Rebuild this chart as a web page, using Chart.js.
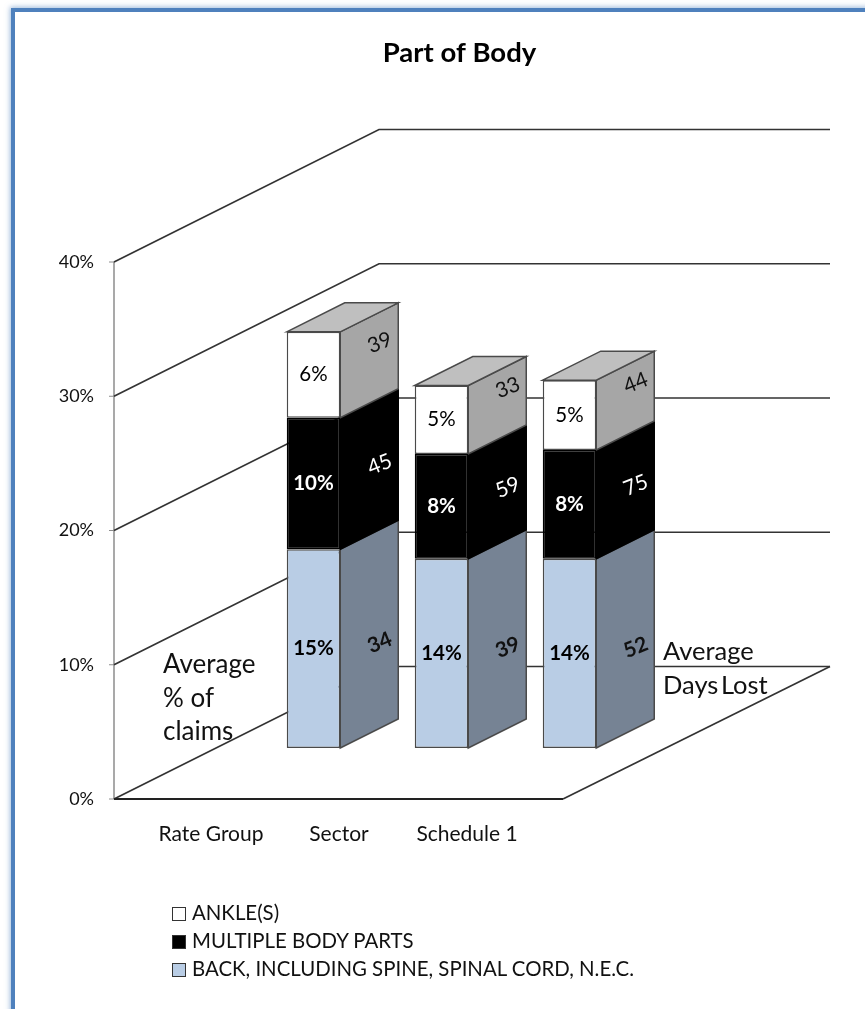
<!DOCTYPE html>
<html>
<head>
<meta charset="utf-8">
<title>Part of Body</title>
<script src="https://cdn.jsdelivr.net/npm/chart.js@4"></script>
<style>
  html, body { margin: 0; padding: 0; background: #fff; }
  body { width: 865px; height: 1009px; overflow: hidden; position: relative; font-family: Lato, sans-serif; }
  #frame {
    position: absolute; left: 11px; top: 8px; width: 1000px; height: 1200px;
    border-left: 4.5px solid #4f81bd; border-top: 4.5px solid #4f81bd;
    box-shadow: 0 0 5px 1px rgba(79, 129, 189, .55);
  }
  #chart-wrap { position: absolute; left: 0; top: 0; width: 865px; height: 1009px; }
  #legend { position: absolute; left: 172px; top: 898px; font-size: 20.4px; color: #111; }
  #legend div { height: 28px; line-height: 28px; white-space: nowrap; }
  #legend span { display: inline-block; width: 12px; height: 12px; border: 1px solid #333; margin-right: 6px; vertical-align: -1px; }
</style>
</head>
<body>
<div id="frame"></div>
<div id="chart-wrap"><canvas id="myChart" width="865" height="1009"></canvas></div>
<div id="legend"></div>
<script>
const chartTitle = 'Part of Body'
const categories = ['Rate Group', 'Sector', 'Schedule 1']
const yTicks = [0, 10, 20, 30, 40]

// % of claims
const backPct = [14.8, 14.1, 14.1]
const multiplePct = [9.8, 7.8, 8.1]
const anklePct = [6.4, 5.1, 5.2]

// average days lost, printed on the side faces
const backDays = [34, 39, 52]
const multipleDays = [45, 59, 75]
const ankleDays = [39, 33, 44]

const backName = 'BACK, INCLUDING SPINE, SPINAL CORD, N.E.C.'
const multipleName = 'MULTIPLE BODY PARTS'
const ankleName = 'ANKLE(S)'

const leftNote = ['Average', '% of', 'claims']
const rightNote = ['Average', 'Days Lost']

const FONT = 'Lato, sans-serif'
const LINE = '#333333'

// depth of the box the chart sits in, and of the bars inside it
const wallDX = 265, wallDY = 132.5
const barDX = 58, barDY = 29
const barShiftX = 102.5, barShiftY = 51
const frontLeftGap = 33, frontRightGap = 32
const backRight = 830

const seriesStyle = [
  { side: '#768394', edge: '#4a4a4a', dayColor: '#111', dayWeight: 'bold', dayShift: 13, pctColor: '#000', pctWeight: 'bold' },
  { side: '#000000', edge: '#000000', dayColor: '#fff', dayWeight: 'normal', dayShift: 0, pctColor: '#fff', pctWeight: 'bold' },
  { side: '#a6a6a6', edge: '#4a4a4a', dayColor: '#111', dayWeight: 'normal', dayShift: -13, pctColor: '#000', pctWeight: 'normal' }
]
const seriesDays = [backDays, multipleDays, ankleDays]

function line(ctx, pts, color, width) {
  ctx.beginPath()
  pts.forEach((p, i) => i ? ctx.lineTo(p[0], p[1]) : ctx.moveTo(p[0], p[1]))
  ctx.strokeStyle = color
  ctx.lineWidth = width
  ctx.stroke()
}

function poly(ctx, pts, fill, edge) {
  ctx.beginPath()
  pts.forEach((p, i) => i ? ctx.lineTo(p[0], p[1]) : ctx.moveTo(p[0], p[1]))
  ctx.closePath()
  ctx.fillStyle = fill
  ctx.fill()
  ctx.strokeStyle = edge
  ctx.lineWidth = 1.5
  ctx.stroke()
}

const box3d = {
  id: 'box3d',
  afterLayout(chart) {
    // title is centred on the frame, not on the squeezed plot
    chart.titleBlock.left = 54
    chart.titleBlock.right = 865
  },
  beforeDatasetsDraw(chart) {
    const ctx = chart.ctx
    const yScale = chart.scales.y
    const area = chart.chartArea
    const x0 = area.left - frontLeftGap
    const x1 = area.right + frontRightGap
    const y0 = yScale.getPixelForValue(0)
    const y40 = yScale.getPixelForValue(40)

    ctx.save()
    line(ctx, [[x0, y40], [x0, y0]], '#8c8c8c', 1.5)
    yTicks.forEach(t => {
      const y = yScale.getPixelForValue(t)
      line(ctx, [[x0 - 5, y], [x0, y]], '#8c8c8c', 1)
      line(ctx, [[x0, y], [x0 + wallDX, y - wallDY], [backRight, y - wallDY]], LINE, 1.7)
    })
    line(ctx, [[x0, y0], [x1, y0]], '#222', 2)
    line(ctx, [[x1, y0], [x1 + wallDX + 2, y0 - wallDY]], LINE, 1.7)

    // side and top faces, the library draws the front ones
    ctx.translate(barShiftX, -barShiftY)
    chart.data.datasets.forEach((ds, i) => {
      chart.getDatasetMeta(i).data.forEach(bar => {
        const r = bar.x + bar.width / 2
        const l = bar.x - bar.width / 2
        poly(ctx, [[r, bar.y], [r + barDX, bar.y - barDY], [r + barDX, bar.base - barDY], [r, bar.base]], seriesStyle[i].side, seriesStyle[i].edge)
        if (i === chart.data.datasets.length - 1) {
          poly(ctx, [[l, bar.y], [l + barDX, bar.y - barDY], [r + barDX, bar.y - barDY], [r, bar.y]], '#bfbfbf', '#4a4a4a')
        }
      })
    })
    ctx.restore()

    ctx.save()
    ctx.translate(barShiftX, -barShiftY)
  },
  afterDatasetsDraw(chart) {
    const ctx = chart.ctx
    ctx.restore()

    ctx.save()
    ctx.translate(barShiftX, -barShiftY)
    ctx.textAlign = 'center'
    ctx.textBaseline = 'middle'
    chart.data.datasets.forEach((ds, i) => {
      const st = seriesStyle[i]
      chart.getDatasetMeta(i).data.forEach((bar, j) => {
        const mid = (bar.y + bar.base) / 2
        ctx.fillStyle = st.pctColor
        ctx.font = st.pctWeight + ' 20.5px ' + FONT
        ctx.fillText(Math.round(ds.data[j]) + '%', bar.x, mid)

        const sx = bar.x + bar.width / 2 + 39.5
        const sy = mid - 19 + st.dayShift
        ctx.save()
        ctx.translate(sx, sy)
        ctx.rotate(-0.38)
        ctx.fillStyle = st.dayColor
        ctx.font = st.dayWeight + ' 21px ' + FONT
        ctx.fillText(String(seriesDays[i][j]), 0, 0)
        ctx.restore()
      })
    })
    ctx.restore()

    ctx.save()
    ctx.fillStyle = '#111'
    ctx.font = '26px ' + FONT
    ctx.textBaseline = 'middle'
    leftNote.forEach((t, i) => ctx.fillText(t, 163, 665 + i * 33.5))
    ctx.font = '25.5px ' + FONT
    ctx.wordSpacing = '-4px'
    rightNote.forEach((t, i) => ctx.fillText(t, 663, 652 + i * 34))
    ctx.restore()
  }
}

const myChart = new Chart(document.getElementById('myChart'), {
  type: 'bar',
  data: {
    labels: categories,
    datasets: [
      { label: backName, data: backPct, backgroundColor: '#b9cde5', borderColor: '#4a4a4a' },
      { label: multipleName, data: multiplePct, backgroundColor: '#000000', borderColor: '#000000' },
      { label: ankleName, data: anklePct, backgroundColor: '#ffffff', borderColor: '#4a4a4a' }
    ]
  },
  options: {
    responsive: false,
    animation: false,
    layout: { padding: { left: 54, right: 334, top: 0, bottom: 0 } },
    datasets: { bar: { borderWidth: 1.5, borderSkipped: false, categoryPercentage: 1, barPercentage: 0.418, clip: false } },
    scales: {
      x: {
        stacked: true,
        grid: { display: false, drawTicks: false },
        border: { display: false },
        afterFit: s => { s.height = 210 },
        ticks: { padding: 23, maxRotation: 0, color: '#111', font: { family: FONT, size: 21 } }
      },
      y: {
        stacked: true,
        min: 0,
        max: 40,
        grid: { display: false, drawTicks: false },
        border: { display: false },
        afterFit: s => { s.width = 93 },
        afterBuildTicks: s => { s.ticks = yTicks.map(v => ({ value: v })) },
        ticks: { padding: 53, color: '#111', font: { family: FONT, size: 18 }, callback: v => v + '%' }
      }
    },
    plugins: {
      legend: { display: false },
      tooltip: { enabled: false },
      title: {
        display: true,
        text: chartTitle,
        color: '#000',
        font: { family: FONT, size: 27.5, weight: 'bold', lineHeight: 1.2 },
        padding: { top: 37, bottom: 192 }
      }
    }
  },
  plugins: [box3d]
})

// legend reads top to bottom in reverse stack order
const legendBox = document.getElementById('legend')
myChart.data.datasets.slice().reverse().forEach(ds => {
  const row = document.createElement('div')
  const swatch = document.createElement('span')
  swatch.style.background = ds.backgroundColor
  row.appendChild(swatch)
  row.append(ds.label)
  legendBox.appendChild(row)
})
</script>
</body>
</html>
